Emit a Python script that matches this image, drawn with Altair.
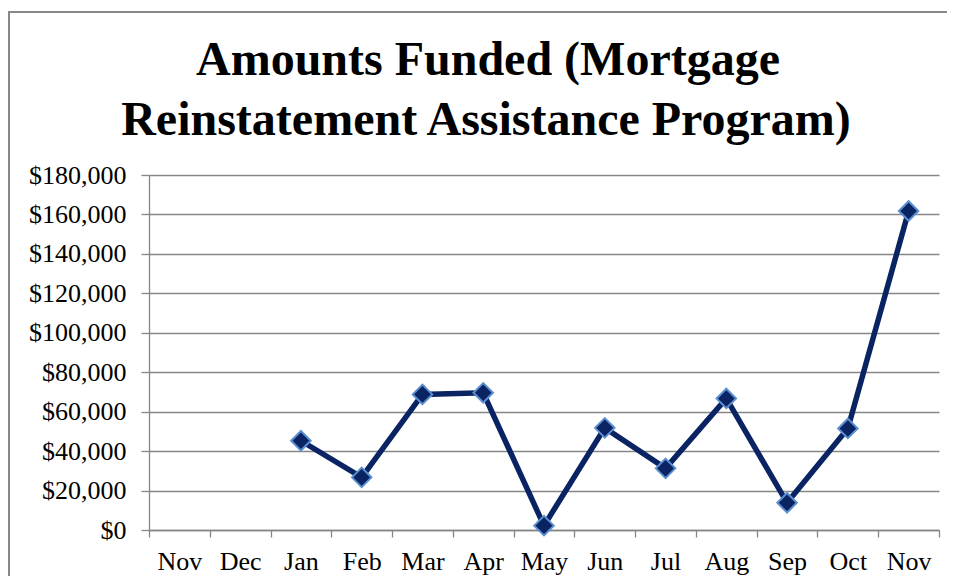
import json
import altair as alt
import pandas as pd

# ---- data ----
months = ["Nov", "Dec", "Jan", "Feb", "Mar", "Apr", "May", "Jun", "Jul", "Aug", "Sep", "Oct", "Nov"]
amounts = [None, None, 45250, 26700, 68750, 69550, 2200, 51800, 31250, 66700, 13800, 51500, 161750]
y_ticks = [0, 20000, 40000, 60000, 80000, 100000, 120000, 140000, 160000, 180000]
title_lines = ["Amounts Funded (Mortgage", "Reinstatement Assistance Program)"]

df = pd.DataFrame({"idx": list(range(len(months))), "month": months, "amount": amounts})

FONT = "Liberation Serif"
GRAY = "#868686"
LINE = "#0a2463"
MARK_STROKE = "#5b8fd0"

label_expr = json.dumps(months) + "[datum.value]"

x_enc = alt.X(
    "idx:O",
    scale=alt.Scale(type="band", paddingInner=0, paddingOuter=0, domain=list(range(len(months)))),
    axis=alt.Axis(
        title=None, labelExpr=label_expr, labelAngle=0, tickBand="extent",
        labelFont=FONT, labelFontSize=26, labelColor="black",
        tickSize=7, tickColor=GRAY, tickWidth=1.3,
        domainColor=GRAY, domainWidth=1.3, labelPadding=11, grid=False,
    ),
)
y_enc = alt.Y(
    "amount:Q",
    scale=alt.Scale(domain=[0, 180000], nice=False),
    axis=alt.Axis(
        title=None, values=y_ticks, format="$,.0f",
        labelFont=FONT, labelFontSize=26, labelColor="black",
        tickSize=8, tickColor=GRAY, tickWidth=1.3,
        domainColor=GRAY, domainWidth=1.3, labelPadding=15,
        grid=True, gridColor=GRAY, gridWidth=1.3,
    ),
)

base = alt.Chart(df)
line = base.mark_line(color=LINE, strokeWidth=5.5).encode(x=x_enc, y=y_enc)
pts = base.mark_point(
    shape="diamond", filled=True, size=380, fill=LINE, stroke=MARK_STROKE, strokeWidth=2, opacity=1
).encode(x=x_enc, y=y_enc)

one = pd.DataFrame({"a": [0]})
border = alt.Chart(one).mark_rect(
    fill="transparent", stroke="#878787", strokeWidth=2, clip=False
).encode(x=alt.value(-140), y=alt.value(-163), x2=alt.value(1000), y2=alt.value(700))

title1 = alt.Chart(one).mark_text(
    font=FONT, fontSize=48, fontWeight="bold", color="black", align="center", baseline="alphabetic"
).encode(x=alt.value(339), y=alt.value(-100), text=alt.value(title_lines[0]))
title2 = alt.Chart(one).mark_text(
    font=FONT, fontSize=48, fontWeight="bold", color="black", align="center", baseline="alphabetic"
).encode(x=alt.value(337), y=alt.value(-40), text=alt.value(title_lines[1]))

chart = alt.layer(border, title1, title2, line, pts).properties(
    width=790,
    height=355,
    autosize=alt.AutoSizeParams(type="none"),
    padding={"left": 141, "top": 167, "right": 8, "bottom": 46},
).configure_view(stroke=None)

chart.save("out.html", embed_options={"renderer": "svg", "actions": False})
